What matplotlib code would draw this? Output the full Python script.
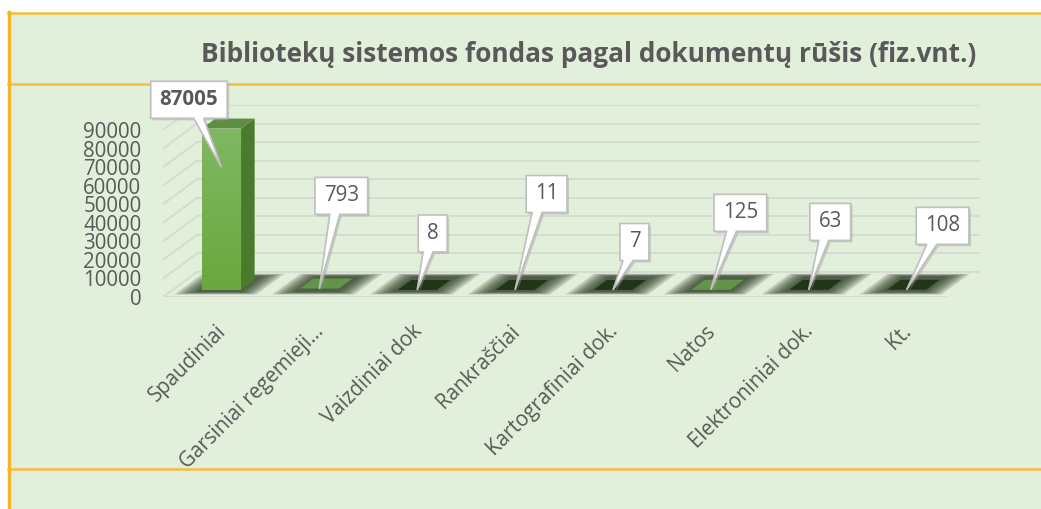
import numpy as np
import matplotlib
matplotlib.use("Agg")
import matplotlib.pyplot as plt
from matplotlib import transforms as mtransforms
from matplotlib.colors import LinearSegmentedColormap
from matplotlib.patches import Polygon, Rectangle
from matplotlib.lines import Line2D

# ---- data ----
categories = ["Spaudiniai", "Garsiniai regemieji…", "Vaizdiniai dok", "Rankraščiai",
              "Kartografiniai dok.", "Natos", "Elektroniniai dok.", "Kt."]
values = [87005, 793, 8, 11, 7, 125, 63, 108]
bold_labels = [True, False, False, False, False, False, False, False]
yticks = list(range(0, 90001, 10000))
title = "Bibliotekų sistemos fondas pagal dokumentų rūšis (fiz.vnt.)"

# ---- layout / style ----
W, H = 1041, 509
DPI = 100
BG = "#E2EFDA"
YELLOW = "#F4BE3A"
GRID = "#D6D9D3"
TXT = "#595959"
FONT = "Open Sans"
YMAX = 90000
DX = 34 / 97.9            # depth offset, category units
DY = 25 / 167 * YMAX      # depth offset, value units
D0, D1 = 0.28, 0.68       # bar depth range
HALF = 0.2                # half bar width
LIT_MIN = 120             # flat bars at/above this keep a green top face
# callout centre offsets from the pointer tip, pixels (x right, y up)
label_off = [(-32.5, 67.5), (22, 93), (15.5, 56.5), (31.5, 96),
             (21.5, 48), (29.5, 77), (21.5, 68), (36, 64)]

plt.rcParams["font.family"] = [FONT, "DejaVu Sans"]


def P(x, y, d):
    return (x + d * DX, y + d * DY)


fig = plt.figure(figsize=(W / DPI, H / DPI), dpi=DPI, facecolor="white")

# chart area background and yellow frame lines
fig.patches.append(Rectangle((9 / W, 0), 1 - 9 / W, 1 - 13 / H, transform=fig.transFigure,
                             facecolor=BG, edgecolor="none", zorder=-5))
for y in (12.5, 83.5, 469):
    fig.add_artist(Line2D([8 / W, 1], [1 - y / H, 1 - y / H], color=YELLOW, lw=1.8,
                          transform=fig.transFigure, zorder=-4))
fig.add_artist(Line2D([9 / W, 9 / W], [0, 1 - 12 / H], color="#F2B52A", lw=2.4,
                      transform=fig.transFigure, zorder=-4))

fig.text(588.5 / W, 1 - 55 / H, title, ha="center", va="center", fontsize=18.9,
         fontweight="bold", color=TXT)

ax = fig.add_axes([163 / W, (H - 297) / H, 817 / W, 192 / H])
ax.set_facecolor("none")
for s in ax.spines.values():
    s.set_visible(False)
n = len(values)
x = np.arange(n)

# walls: back gridlines, left wall diagonals, floor edge
for v in yticks:
    bx, by = P(-0.5, v, 1)
    ax.plot([bx, n - 0.5 + DX], [by, by], color=GRID, lw=1.3, zorder=1)
    ax.plot([-0.5, bx], [v, by], color=GRID, lw=1.3, zorder=1)
ax.plot([-0.5, n - 0.5], [0, 0], color=GRID, lw=1.3, zorder=1)

# soft floor shadows
for i in x:
    for k in range(7):
        t = k / 6
        hw = 0.42 - 0.19 * t
        da, db = 0.1 + 0.1 * t, 0.93 - 0.1 * t
        pts = [P(i - hw, 0, da), P(i + hw, 0, da), P(i + hw, 0, db), P(i - hw, 0, db)]
        ax.add_patch(Polygon(pts, closed=True, facecolor="#1B2A13", edgecolor="none",
                             alpha=0.17, zorder=2))

# bars
front_cmap = LinearSegmentedColormap.from_list("front", ["#6AA83E", "#80B862"])
for i, v in zip(x, values):
    if v < 1000:
        top = "#629547" if v >= LIT_MIN else "#223519"
        pts = [P(i - HALF, v, D0), P(i + HALF, v, D0), P(i + HALF, v, D1), P(i - HALF, v, D1)]
        ax.add_patch(Polygon(pts, closed=True, facecolor=top, edgecolor="none", zorder=3))
        continue
    side = [P(i + HALF, 0, D0), P(i + HALF, v, D0), P(i + HALF, v, D1), P(i + HALF, 0, D1)]
    ax.add_patch(Polygon(side, closed=True, facecolor="#4A7B2D", edgecolor="none", zorder=3))
    topf = [P(i - HALF, v, D0), P(i + HALF, v, D0), P(i + HALF, v, D1), P(i - HALF, v, D1)]
    ax.add_patch(Polygon(topf, closed=True, facecolor="#5E8E42", edgecolor="none", zorder=3))
    fx0, fy0 = P(i - HALF, 0, D0)
    fx1, fy1 = P(i + HALF, v, D0)
    front = Polygon([(fx0, fy0), (fx1, fy0), (fx1, fy1), (fx0, fy1)], closed=True,
                    facecolor="none", edgecolor="none", zorder=3)
    ax.add_patch(front)
    im = ax.imshow(np.linspace(0, 1, 64).reshape(-1, 1), origin="lower", cmap=front_cmap,
                   extent=[fx0, fx1, fy0, fy1], aspect="auto", zorder=3)
    im.set_clip_path(front)

ax.set_xlim(-0.5, n - 0.5 + DX)
ax.set_ylim(0, YMAX + DY)

# y tick labels on the front plane
ax.set_yticks(yticks, [str(t) for t in yticks])
ax.set_xticks([])
ax.tick_params(axis="y", length=0, pad=15.5, labelsize=14.8, labelcolor=TXT)

# rotated category labels
for i, c in zip(x, categories):
    tr = mtransforms.offset_copy(ax.transData, fig=fig, x=11, y=-31, units="dots")
    ax.text(i, 0, c, transform=tr, rotation=45, rotation_mode="anchor", ha="right",
            va="center", fontsize=14.8, color=TXT, clip_on=False)

# callouts
for i, v, (ox, oy), b in zip(x, values, label_off, bold_labels):
    tx, ty = P(i, v * 0.76, D0)
    tr = mtransforms.Affine2D() + mtransforms.ScaledTranslation(tx, ty, ax.transData)
    s = str(v)
    w = len(s) * 11.9 + 17
    h = 37
    L, R, T, B = ox - w / 2, ox + w / 2, oy + h / 2, oy - h / 2
    bc = ox + 0.3 * (0 - ox)
    bc = min(max(bc, L + 8), R - 8)
    pts = [(L, T), (R, T), (R, B), (bc + 5, B), (0, 0), (bc - 5, B), (L, B)]
    sh = [(px + 2, py - 2) for px, py in pts]
    ax.add_patch(Polygon(sh, closed=True, facecolor="#9E9E9E", edgecolor="none", alpha=0.45,
                         transform=tr, clip_on=False, zorder=5))
    ax.add_patch(Polygon(pts, closed=True, facecolor="white", edgecolor="#BFBFBF", lw=1.2,
                         joinstyle="miter", transform=tr, clip_on=False, zorder=6))
    ax.text(ox, oy, s, transform=tr, ha="center", va="center", fontsize=14.8, color=TXT,
            fontweight="bold" if b else "normal", zorder=7, clip_on=False)

fig.savefig("out.png", dpi=DPI, facecolor="white")
